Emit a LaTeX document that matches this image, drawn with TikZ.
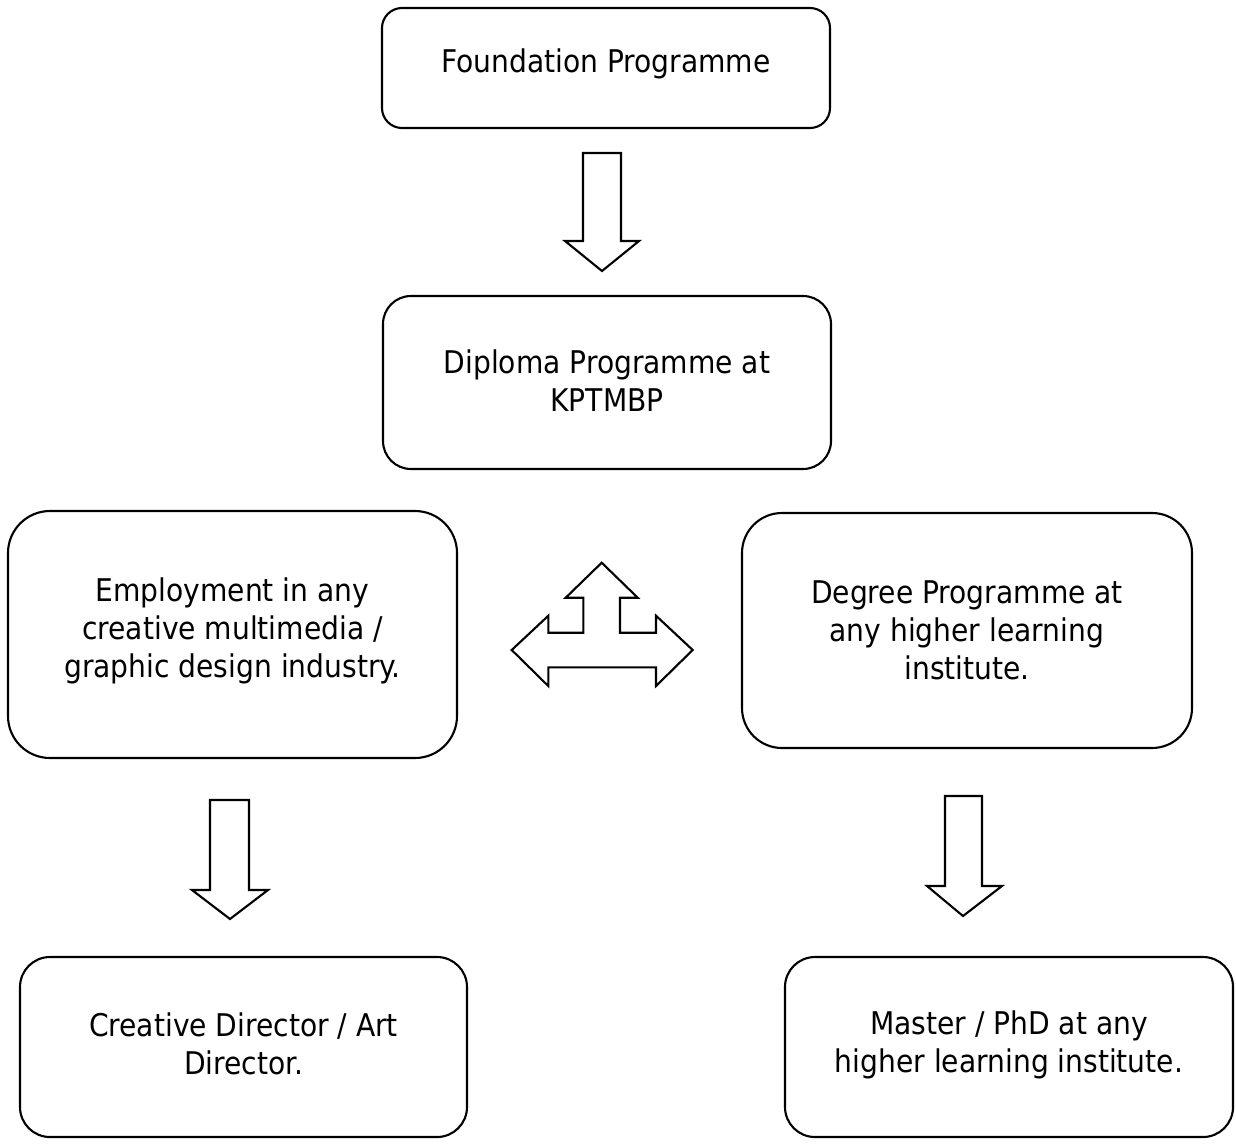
\documentclass[tikz,border=0pt]{standalone}
\usepackage{fontspec}
\setmainfont{DejaVu Sans Condensed}
\begin{document}
\begin{tikzpicture}[x=0.02cm,y=-0.02cm,
  box/.style={draw,line width=1.2pt,inner sep=0pt},
  lbl/.style={align=center,inner sep=0pt,font=\fontsize{17.8}{21.6}\selectfont},
  blockarrow/.style={draw,line width=1.2pt,line join=miter}]
\useasboundingbox (0,0) rectangle (1236,1146);
% boxes
\node[box,rounded corners=20*0.02cm,minimum width=448*0.02cm,minimum height=120*0.02cm] (found) at (606,68) {};
\node[lbl] (foundtxt) at (606,64) {Foundation Programme};
\node[box,rounded corners=28*0.02cm,minimum width=448*0.02cm,minimum height=173*0.02cm] (dipl) at (607,382.5) {};
\node[lbl] (dipltxt) at (607,381) {Diploma Programme at\\KPTMBP};
\node[box,rounded corners=42*0.02cm,minimum width=449*0.02cm,minimum height=247*0.02cm] (empl) at (232.5,634.5) {};
\node[lbl] (empltxt) at (232.5,631) {Employment in any\\creative multimedia /\\graphic design industry.};
\node[box,rounded corners=40*0.02cm,minimum width=450*0.02cm,minimum height=235*0.02cm] (degr) at (967,630.5) {};
\node[lbl] (degrtxt) at (967,630) {Degree Programme at\\any higher learning\\institute.};
\node[box,rounded corners=30*0.02cm,minimum width=447*0.02cm,minimum height=180*0.02cm] (crea) at (243.5,1047) {};
\node[lbl] (creatxt) at (243.5,1044) {Creative Director / Art\\Director.};
\node[box,rounded corners=30*0.02cm,minimum width=448*0.02cm,minimum height=180*0.02cm] (mast) at (1009,1047) {};
\node[lbl] (masttxt) at (1009,1045) {Master / PhD at any\\higher learning institute.};
% block arrows
\draw[blockarrow] (583,153) -- (621,153) -- (621,241) -- (639,241) -- (602,271) -- (565,241) -- (583,241) -- cycle;
\draw[blockarrow] (210,800) -- (249,800) -- (249,890) -- (268,890) -- (230,919) -- (192,890) -- (210,890) -- cycle;
\draw[blockarrow] (945,796) -- (982,796) -- (982,886) -- (1002,886) -- (963,916) -- (927,886) -- (945,886) -- cycle;
\draw[blockarrow] (601.7,562.7) -- (637.7,597.7) -- (620,597.7) -- (620,632.7) -- (656,632.7) -- (656,615.7)
  -- (692.7,650) -- (656,686) -- (656,667.3) -- (548.3,667.3) -- (548.3,686) -- (511.7,650) -- (548.3,615.7)
  -- (548.3,632.7) -- (583.3,632.7) -- (583.3,597.7) -- (565.7,597.7) -- cycle;
\end{tikzpicture}
\end{document}
